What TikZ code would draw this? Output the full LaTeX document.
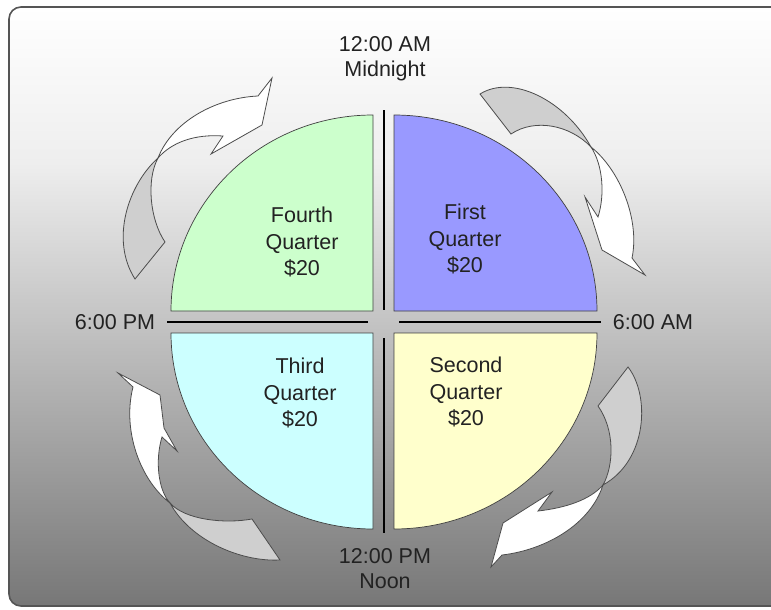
\documentclass[tikz,border=0pt]{standalone}
\usepackage{fontspec}
\setmainfont{Liberation Sans}
\definecolor{qfirst}{HTML}{9999FF}
\definecolor{qsecond}{HTML}{FFFFCC}
\definecolor{qthird}{HTML}{CCFFFF}
\definecolor{qfourth}{HTML}{CCFFCC}
\definecolor{bgbottom}{HTML}{777777}
\definecolor{bgupper}{HTML}{EEEEEE}
\definecolor{ribbongray}{HTML}{CFCFCF}
\definecolor{framegray}{HTML}{555555}
\definecolor{textdark}{HTML}{222222}
\pgfdeclareverticalshading{clockbg}{100bp}{color(0bp)=(bgbottom); color(25bp)=(bgbottom); color(62bp)=(bgupper); color(75bp)=(white); color(100bp)=(white)}

\begin{document}
\begin{tikzpicture}[x=1pt, y=-1pt,
    quarter/.style={draw=black!75, line width=0.7pt},
    divider/.style={draw=black, line width=1.2pt},
    ribbontop/.style={draw=black!70, line width=0.8pt, fill=white},
    ribbonunder/.style={draw=black!70, line width=0.8pt, fill=ribbongray},
    timelabel/.style={text=textdark, align=center, font=\fontsize{21.5}{25}\selectfont},
    quarterlabel/.style={text=textdark, align=center, font=\fontsize{21.5}{26.5}\selectfont}]
    \useasboundingbox (0,0) rectangle (771,610);
    \clip (0,0) rectangle (771,610);
    % Background panel
    \path[shading=clockbg, draw=framegray, line width=1.6pt, rounded corners=12pt] (9,7) rectangle (790,606);
    % Quarters
    \draw[quarter, fill=qfourth] (373,311) -- (171,311) .. controls (171,203) and (261,115) .. (373,115) -- cycle;
    \draw[quarter, fill=qfirst] (394,311) -- (394,115) .. controls (506,115) and (597,203) .. (597,311) -- cycle;
    \draw[quarter, fill=qthird] (373,333) -- (171,333) .. controls (171,441) and (261,529) .. (373,529) -- cycle;
    \draw[quarter, fill=qsecond] (394,333) -- (597,333) .. controls (597,441) and (506,529) .. (394,529) -- cycle;
    % Time labels
    \node[timelabel] (midnight) at (385,59) {12:00 AM\\Midnight};
    \node[timelabel] (noon) at (385,569) {12:00 PM\\Noon};
    \node[timelabel] (pm) at (115,322) {6:00 PM};
    \node[timelabel] (am) at (653,322) {6:00 AM};
    % Dividers
    \coordinate (top) at (384,110);
    \coordinate (bottom) at (384,533);
    \coordinate (left) at (167,322);
    \coordinate (right) at (601,322);
    \draw[divider] (top) -- (384,310);
    \draw[divider] (384,338) -- (bottom);
    \draw[divider] (left) -- (368,322);
    \draw[divider] (399,322) -- (right);
    % Quarter labels
    \foreach \name/\x/\y/\txt in {fourth/302/242/Fourth, first/465/239/First,
                                  third/300/393/Third, second/466/392/Second} {
        \node[quarterlabel] (\name) at (\x,\y) {\txt\\Quarter\\\$20};
    }
    % Cycle arrows
    \coordinate (twistA) at (158,158);
    \draw[ribbonunder] (twistA) .. controls (128,185) and (110,240) .. (135,279) -- (165,242) .. controls (150,220) and (146,180) .. (twistA) -- cycle;
    \draw[ribbontop] (twistA) .. controls (172,122) and (215,98) .. (258,96) -- (272,78) -- (262,125) -- (211,154) -- (223,136) .. controls (195,134) and (172,142) .. (twistA) -- cycle;
    \coordinate (twistB) at (591,147);
    \draw[ribbonunder] (twistB) .. controls (565,100) and (512,74) .. (480,94) -- (511,134) .. controls (535,118) and (570,125) .. (twistB) -- cycle;
    \draw[ribbontop] (twistB) .. controls (620,170) and (640,220) .. (632,258) -- (645,275) -- (602,250) -- (585,197) -- (598,217) .. controls (605,195) and (603,165) .. (twistB) -- cycle;
    \coordinate (twistC) at (603,485);
    \draw[ribbonunder] (twistC) .. controls (648,460) and (650,395) .. (628,367) -- (598,406) .. controls (615,430) and (614,465) .. (twistC) -- cycle;
    \draw[ribbontop] (twistC) .. controls (590,525) and (545,550) .. (502,555) -- (491,567) -- (503,523) -- (552,492) -- (538,511) .. controls (565,508) and (590,500) .. (twistC) -- cycle;
    \coordinate (twistD) at (170,503);
    \draw[ribbonunder] (twistD) .. controls (185,520) and (225,524) .. (252,519) -- (280,560) .. controls (240,562) and (190,540) .. (twistD) -- cycle;
    \draw[ribbontop] (twistD) .. controls (140,480) and (122,430) .. (133,387) -- (118,373) -- (160,395) -- (164,428) -- (177,451) -- (162,437) .. controls (155,460) and (158,490) .. (twistD) -- cycle;
\end{tikzpicture}
\end{document}
